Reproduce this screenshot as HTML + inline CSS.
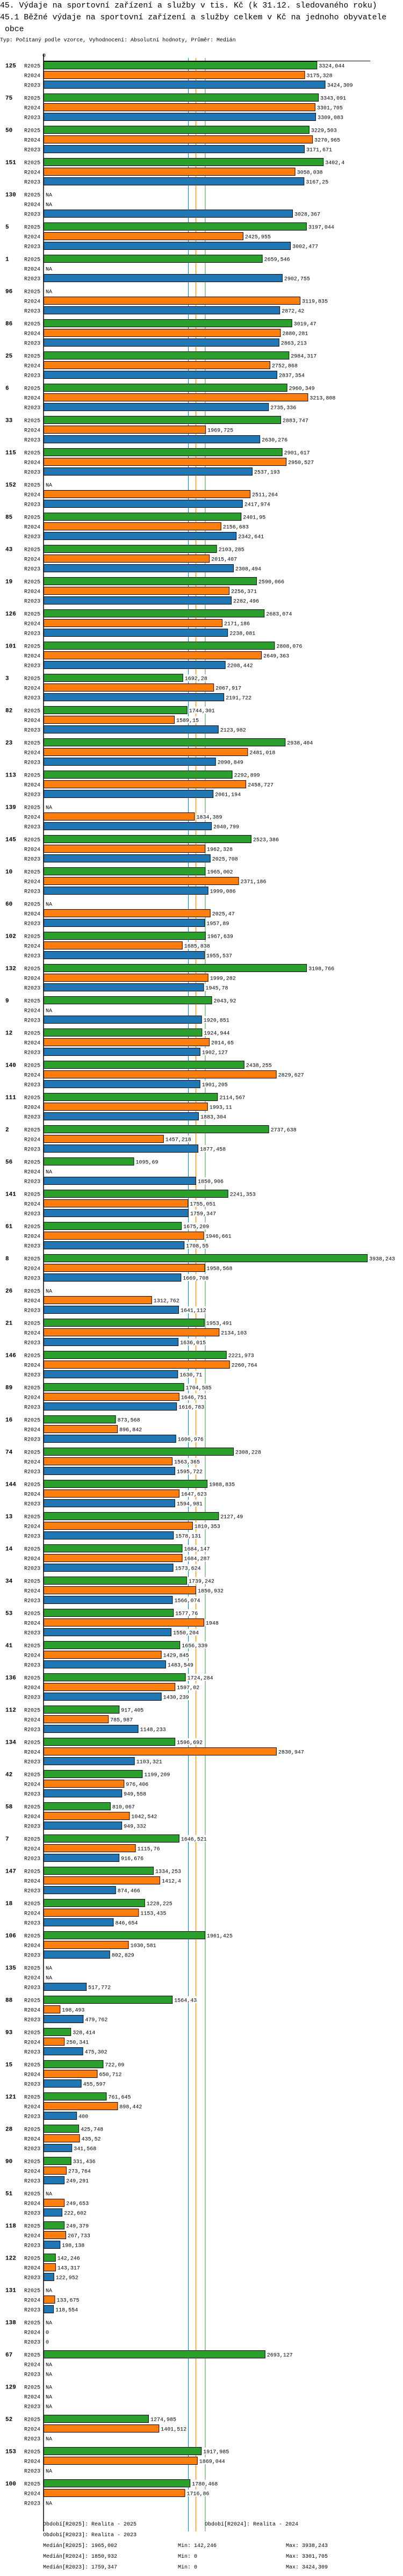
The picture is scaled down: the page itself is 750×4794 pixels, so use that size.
<!DOCTYPE html>
<html><head><meta charset="utf-8">
<style>
body{margin:0;background:#fff;width:750px;height:4794px;overflow:hidden}
svg{display:block}
text{font-family:"Liberation Mono","DejaVu Sans Mono",monospace;fill:#000}
</style></head><body>
<svg id="chart" width="750" height="4794" xmlns="http://www.w3.org/2000/svg">
<text x="0" y="14" font-size="14.8">45. Výdaje na sportovní zařízení a služby v tis. Kč (k 31.12. sledovaného roku)</text>
<text x="0" y="36" font-size="14.8">45.1 Běžné výdaje na sportovní zařízení a služby celkem v Kč na jednoho obyvatele</text>
<text x="9" y="58" font-size="14.8">obce</text>
<text x="0" y="77" font-size="9.9">Typ: Počítaný podle vzorce, Vyhodnocení: Absolutní hodnoty, Průměr: Medián</text>
<g id="plot"></g>
<g id="footer">
<text x="80" y="4700" font-size="10">Období[R2025]: Realita - 2025</text>
<text x="381" y="4700" font-size="10">Období[R2024]: Realita - 2024</text>
<text x="80" y="4720" font-size="10">Období[R2023]: Realita - 2023</text>
<text x="80" y="4740" font-size="10">Medián[R2025]: 1965,002</text>
<text x="331" y="4740" font-size="10">Min: 142,246</text>
<text x="532" y="4740" font-size="10">Max: 3938,243</text>
<text x="80" y="4760" font-size="10">Medián[R2024]: 1850,932</text>
<text x="331" y="4760" font-size="10">Min: 0</text>
<text x="532" y="4760" font-size="10">Max: 3301,705</text>
<text x="80" y="4780" font-size="10">Medián[R2023]: 1759,347</text>
<text x="331" y="4780" font-size="10">Min: 0</text>
<text x="532" y="4780" font-size="10">Max: 3424,309</text>
</g>
</svg>
<script>
const categories=[125,75,50,151,130,5,1,96,86,25,6,33,115,152,85,43,19,126,101,3,82,23,113,139,145,10,60,102,132,9,12,140,111,2,56,141,61,8,26,21,146,89,16,74,144,13,14,34,53,41,136,112,134,42,58,7,147,18,106,135,88,93,15,121,28,90,51,118,122,131,138,67,129,52,153,100];
const r2025=[3324.044,3343.091,3229.503,3402.4,null,3197.044,2659.546,null,3019.47,2984.317,2960.349,2883.747,2901.617,null,2401.95,2103.285,2590.066,2683.074,2808.076,1692.28,1744.301,2938.404,2292.899,null,2523.386,1965.002,null,1967.639,3198.766,2043.92,1924.944,2438.255,2114.567,2737.638,1095.69,2241.353,1675.209,3938.243,null,1953.491,2221.973,1704.585,873.568,2308.228,1988.835,2127.49,1684.147,1739.242,1577.76,1656.339,1724.284,917.405,1596.692,1199.209,810.067,1646.521,1334.253,1228.225,1961.425,null,1564.43,328.414,722.09,761.645,425.748,331.436,null,249.379,142.246,null,null,2693.127,null,1274.985,1917.985,1780.468];
const r2024=[3175.328,3301.705,3270.965,3058.038,null,2425.955,null,3119.835,2880.281,2752.868,3213.808,1969.725,2950.527,2511.264,2156.683,2015.407,2256.371,2171.186,2649.363,2067.917,1589.15,2481.018,2458.727,1834.389,1962.328,2371.186,2025.47,1685.838,1999.282,null,2014.65,2829.627,1993.11,1457.218,null,1755.051,1946.661,1958.568,1312.762,2134.103,2260.764,1646.751,896.842,1563.365,1647.623,1810.353,1684.287,1850.932,1948,1429.845,1597.02,785.987,2830.947,976.406,1042.542,1115.76,1412.4,1153.435,1030.581,null,198.493,250.341,650.712,898.442,435.52,273.764,249.653,267.733,143.317,133.675,0,null,null,1401.512,1869.044,1716.86];
const r2023=[3424.309,3309.083,3171.671,3167.25,3028.367,3002.477,2902.755,2872.42,2863.213,2837.354,2735.336,2630.276,2537.193,2417.974,2342.641,2308.494,2282.496,2238.081,2208.442,2191.722,2123.982,2090.849,2061.194,2040.799,2025.708,1999.086,1957.89,1955.537,1945.78,1920.851,1902.127,1901.205,1883.304,1877.458,1850.906,1759.347,1708.55,1669.708,1641.112,1636.015,1630.71,1616.783,1606.976,1595.722,1594.981,1578.131,1573.624,1566.074,1550.204,1483.549,1430.239,1148.233,1103.321,949.558,949.332,916.676,874.466,846.654,802.829,517.772,479.762,475.302,455.597,400,341.568,249.291,222.602,198.138,122.952,118.554,0,null,null,null,null,null];
const seriesNames=["R2025","R2024","R2023"];
const seriesColors=["#2ca02c","#ff7f0e","#1f77b4"];
const medians=[1965.002,1850.932,1759.347];

const NS="http://www.w3.org/2000/svg";
const plot=document.getElementById('plot');
const X0=81.5, K=0.1529, TOP=114, ROW=18, GROUP=60, BARH=15;
const xs=v=>X0+v*K;
const yRow=(g,s)=>TOP+g*GROUP+s*ROW;
const END=yRow(categories.length-1,2)+BARH+46;
function mk(tag,attrs){const e=document.createElementNS(NS,tag);for(const k in attrs)e.setAttribute(k,attrs[k]);plot.appendChild(e);return e;}
function fmt(v){return String(v).replace('.',',');}

// zero label
let z=mk('text',{x:79,y:106,'font-size':10});z.textContent='0';


// median lines
medians.forEach((m,i)=>{
  const l=mk('line',{x1:xs(m),x2:xs(m),y1:108,y2:END,stroke:seriesColors[2-i]===undefined?'#000':seriesColors[i],'stroke-width':1});
  
  
});
// top axis line
const ta=mk('line',{x1:81,x2:689,y1:113.5,y2:113.5,stroke:'#000','stroke-width':1});



const series=[r2025,r2024,r2023];
categories.forEach((c,g)=>{
  const gl=mk('text',{x:10,y:yRow(g,0)+11.5,'font-size':11,'font-weight':'bold'});
  gl.textContent=c;
  
  
  series.forEach((arr,s)=>{
    const y=yRow(g,s);
    const sl=mk('text',{x:45,y:y+11.5,'font-size':10});
    sl.textContent=seriesNames[s];
    
    
    const v=arr[g];
    let tx;
    if(v===null){tx=85;}
    else{
      if(v>0){
        const b=mk('rect',{x:X0,y:y+0.5,width:Math.max(0,xs(v)-X0),height:BARH-1,fill:seriesColors[s],stroke:'#000','stroke-width':1});
        
        
        tx=xs(v)+3.5;
      } else tx=85;
    }
    const label=v===null?'NA':fmt(v);
    const bg=mk('rect',{x:tx-1,y:y+1,width:label.length*6+2,height:13,fill:'#fff'});
    
    
    const vt=mk('text',{x:tx,y:y+11.5,'font-size':10});
    vt.textContent=label;
    
    
  });
});
// y axis
const ya=mk('line',{x1:81,x2:81,y1:101,y2:END,stroke:'#000','stroke-width':1.5});


</script>
</body></html>
